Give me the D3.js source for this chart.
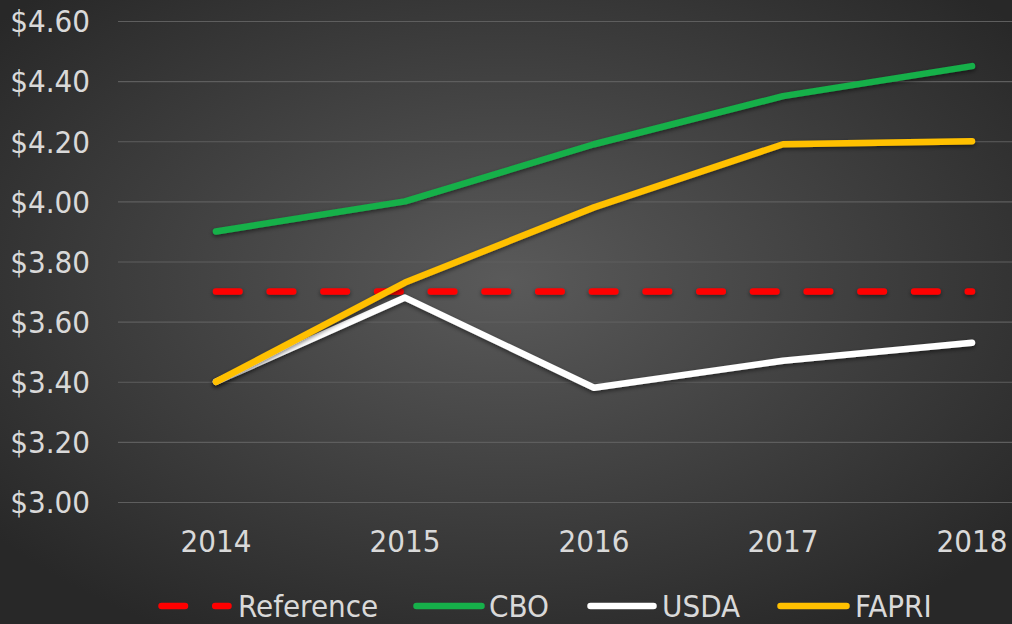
<!DOCTYPE html>
<html>
<head>
<meta charset="utf-8">
<script src="https://cdn.jsdelivr.net/npm/d3@7"></script>
<style>
  html, body { margin: 0; padding: 0; background: #2b2b2b; }
  svg { display: block; }
  .tick text, .legend text { fill: #d9d9d9; font-family: "DejaVu Sans Condensed", "DejaVu Sans", sans-serif; }
</style>
</head>
<body>
<svg width="1012" height="624"></svg>
<script>
const years = ['2014', '2015', '2016', '2017', '2018'];
const reference = [3.70, 3.70, 3.70, 3.70, 3.70];
const cbo = [3.90, 4.00, 4.19, 4.35, 4.45];
const usda = [3.40, 3.68, 3.38, 3.47, 3.53];
const fapri = [3.40, 3.73, 3.98, 4.19, 4.20];
const yTicks = [3.0, 3.2, 3.4, 3.6, 3.8, 4.0, 4.2, 4.4, 4.6];

const series = [
    { name: 'Reference', values: reference, color: '#ff0000', dash: '23.5 30.2' },
    { name: 'CBO', values: cbo, color: '#16b04a', dash: null },
    { name: 'USDA', values: usda, color: '#ffffff', dash: null },
    { name: 'FAPRI', values: fapri, color: '#ffc000', dash: null }
];

const svg = d3.select('svg');
const width = +svg.attr('width');
const height = +svg.attr('height');

// background: radial gradient, lighter in the middle
const defs = svg.append('defs');
const grad = defs.append('radialGradient')
    .attr('id', 'bg')
    .attr('cx', '50%').attr('cy', '45%').attr('r', '65%');
grad.append('stop').attr('offset', '0%').attr('stop-color', '#5a5a5a');
grad.append('stop').attr('offset', '100%').attr('stop-color', '#282828');

// userSpaceOnUse so the flat reference line keeps a filter region
const shadow = defs.append('filter').attr('id', 'shadow')
    .attr('filterUnits', 'userSpaceOnUse')
    .attr('x', 0).attr('y', 0).attr('width', width).attr('height', height);
shadow.append('feDropShadow')
    .attr('dx', 0).attr('dy', 2).attr('stdDeviation', 2)
    .attr('flood-color', '#000').attr('flood-opacity', 0.5);

svg.append('rect').attr('width', width).attr('height', height).attr('fill', 'url(#bg)');

const xScale = d3.scaleBand().domain(years).range([121.5, 1066.5]);
const yScale = d3.scaleLinear().domain([3.0, 4.6]).range([502, 21]);
const xPos = d => xScale(d) + xScale.bandwidth() / 2;

// y axis with gridlines
const yAxis = d3.axisLeft(yScale)
    .tickValues(yTicks)
    .tickFormat(d3.format('$.2f'))
    .tickSize(-(width - 118))
    .tickPadding(28);

const yAxisG = svg.append('g')
    .attr('transform', 'translate(118,0)')
    .call(yAxis);
yAxisG.select('.domain').remove();
yAxisG.selectAll('.tick line').attr('stroke', '#5e5e5e').attr('stroke-width', 1.2);
yAxisG.selectAll('.tick text').attr('font-size', 31).attr('dy', '0.35em');

// x axis
const xAxis = d3.axisBottom(xScale).tickSize(0).tickPadding(0);
const xAxisG = svg.append('g')
    .attr('transform', 'translate(0,527)')
    .call(xAxis);
xAxisG.select('.domain').remove();
xAxisG.selectAll('.tick text').attr('font-size', 31).attr('dy', '0.8em');

// lines
const line = d3.line()
    .x((d, i) => xPos(years[i]))
    .y(d => yScale(d));

svg.append('g').selectAll('path')
    .data(series)
    .join('path')
    .attr('d', d => line(d.values))
    .attr('fill', 'none')
    .attr('stroke', d => d.color)
    .attr('stroke-width', 6.5)
    .attr('stroke-linecap', 'round')
    .attr('stroke-linejoin', 'round')
    .attr('stroke-dasharray', d => d.dash)
    .attr('filter', 'url(#shadow)');

// legend
const legendItems = [
    { x: 161.5, w: 67, tx: 238 },
    { x: 416.5, w: 65, tx: 489 },
    { x: 590.5, w: 63, tx: 662 },
    { x: 780.5, w: 66, tx: 855 }
];
const legendY = 606;
const legend = svg.append('g').attr('class', 'legend');
series.forEach((s, i) => {
    const p = legendItems[i];
    legend.append('line')
        .attr('x1', p.x).attr('x2', p.x + p.w)
        .attr('y1', legendY).attr('y2', legendY)
        .attr('stroke', s.color)
        .attr('stroke-width', 6.5)
        .attr('stroke-linecap', 'round')
        .attr('stroke-dasharray', s.dash);
    legend.append('text')
        .attr('x', p.tx).attr('y', legendY)
        .attr('dy', '0.35em')
        .attr('font-size', 31)
        .text(s.name);
});
</script>
</body>
</html>
